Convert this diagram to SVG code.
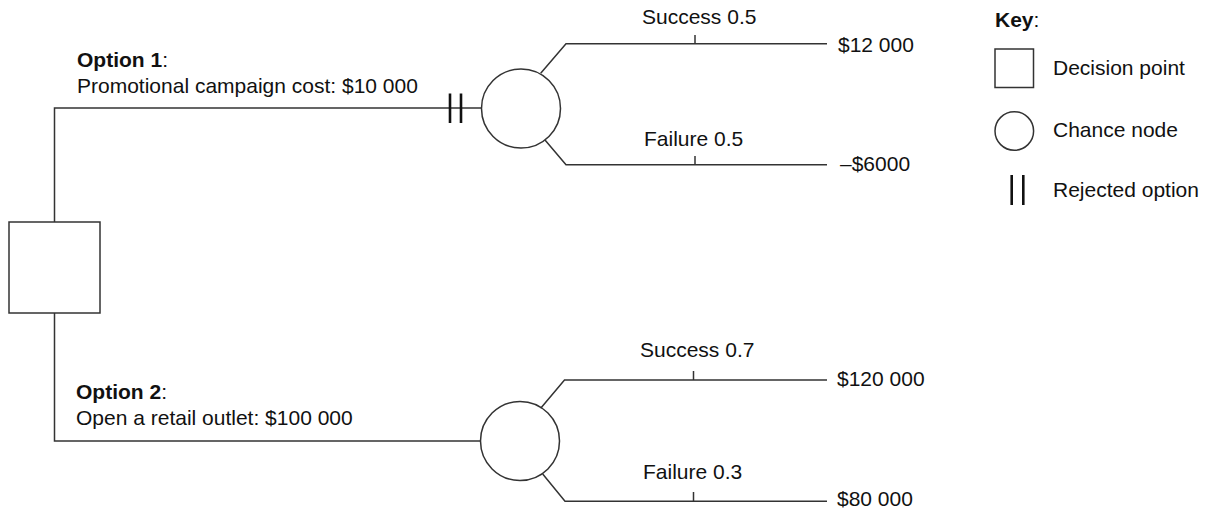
<svg xmlns="http://www.w3.org/2000/svg" width="1208" height="509" viewBox="0 0 1208 509">
<style>
.ln{fill:none;stroke:#333;stroke-width:1.5}
.rej{stroke:#111;stroke-width:2.6}
.t{font-family:"Liberation Sans",Arial,sans-serif;font-size:21px;fill:#111}
.b{font-weight:bold}
</style>
<rect width="1208" height="509" fill="#fff"/>
<g id="connectors">
<polyline class="ln" points="54.5,222 54.5,108 481.5,108"/>
<polyline class="ln" points="54.5,313 54.5,441 480.5,441"/>
<polyline class="ln" points="540.7,73.3 566,43.7 827,43.7"/>
<line class="ln" x1="695" y1="35" x2="695" y2="43.7"/>
<polyline class="ln" points="545,140 566,164.7 827,164.7"/>
<line class="ln" x1="695" y1="156" x2="695" y2="164.7"/>
<polyline class="ln" points="540.7,408.3 564.5,380 827,380"/>
<line class="ln" x1="693.5" y1="371" x2="693.5" y2="380"/>
<polyline class="ln" points="542.7,474 565,501.3 827,501.3"/>
<line class="ln" x1="693.5" y1="492" x2="693.5" y2="501.3"/>
<line class="rej" x1="450" y1="93.5" x2="450" y2="123"/>
<line class="rej" x1="461" y1="93.5" x2="461" y2="123"/>
</g>
<g id="decision">
<rect class="ln" x="9" y="222" width="91" height="91"/>
</g>
<g id="option1">
<text class="t" x="77" y="66.7"><tspan class="b">Option 1</tspan>:</text>
<text class="t" x="77" y="92.7">Promotional campaign cost: $10 000</text>
</g>
<g id="option2">
<text class="t" x="76" y="399.3"><tspan class="b">Option 2</tspan>:</text>
<text class="t" x="76" y="425">Open a retail outlet: $100 000</text>
</g>
<g id="chance1">
<circle class="ln" cx="521" cy="108.5" r="39.5"/>
</g>
<g id="chance2">
<circle class="ln" cx="520" cy="441" r="39.5"/>
</g>
<g id="labels">
<text class="t" x="642" y="24.3">Success 0.5</text>
<text class="t" x="644" y="145.7">Failure 0.5</text>
<text class="t" x="640" y="356.7">Success 0.7</text>
<text class="t" x="643" y="479">Failure 0.3</text>
<text class="t" x="838" y="51.7">$12 000</text>
<text class="t" x="840" y="171">–$6000</text>
<text class="t" x="837" y="385.5">$120 000</text>
<text class="t" x="837" y="505.5">$80 000</text>
</g>
<g id="key">
<text class="t" x="995" y="27"><tspan class="b">Key</tspan>:</text>
<rect class="ln" x="995" y="49" width="38.5" height="38.5"/>
<text class="t" x="1053" y="75">Decision point</text>
<circle class="ln" cx="1014.3" cy="131" r="19.3"/>
<text class="t" x="1053" y="136.5">Chance node</text>
<line class="rej" x1="1011.7" y1="175" x2="1011.7" y2="205"/>
<line class="rej" x1="1023.3" y1="175" x2="1023.3" y2="205"/>
<text class="t" x="1053" y="197">Rejected option</text>
</g>
</svg>
